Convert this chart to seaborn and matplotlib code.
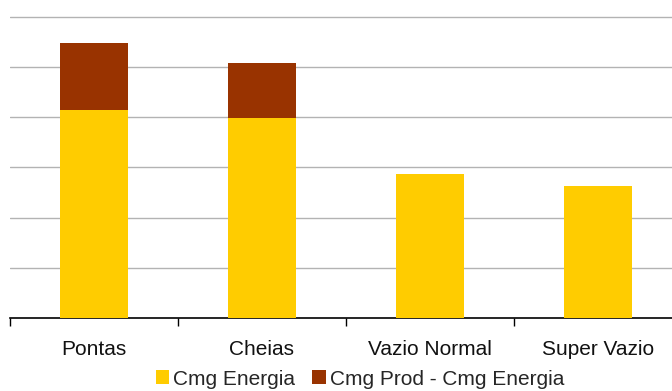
import matplotlib
matplotlib.use("Agg")
import matplotlib.pyplot as plt
import seaborn as sns
import pandas as pd
from matplotlib.patches import Patch

categories = ["Pontas", "Cheias", "Vazio Normal", "Super Vazio"]
cmg_energia = [41.4, 39.8, 28.7, 26.3]
cmg_prod_diff = [13.3, 10.9, 0.0, 0.0]
series_names = ["Cmg Energia", "Cmg Prod - Cmg Energia"]

yellow = "#FFCC00"
brown = "#993300"

sns.set_theme(style="white")
plt.rcParams["font.family"] = ["Liberation Sans", "DejaVu Sans"]

df = pd.DataFrame({
    "cat": categories,
    "energia": cmg_energia,
    "total": [e + d for e, d in zip(cmg_energia, cmg_prod_diff)],
})

fig = plt.figure(figsize=(6.72, 3.91), dpi=100)
ax = fig.add_axes([10 / 672, 73 / 391, 672 / 672, 318 / 391])

sns.barplot(data=df, x="cat", y="total", order=categories, color=brown,
            width=0.41, saturation=1, ax=ax, zorder=3,
            edgecolor="none", linewidth=0)
sns.barplot(data=df, x="cat", y="energia", order=categories, color=yellow,
            width=0.41, saturation=1, ax=ax, zorder=3,
            edgecolor="none", linewidth=0)

ax.set_xlim(-0.5, 3.5)
ax.set_ylim(0, 63.3)
ax.set_yticks([10, 20, 30, 40, 50, 60])
ax.set_yticklabels([])
ax.tick_params(axis="y", length=0)
ax.yaxis.grid(True, color="#b3b3b3", linewidth=1.0, zorder=0)
ax.set_axisbelow(True)

ax.set_xticks(range(len(categories)))
ax.set_xticklabels(categories, fontsize=15, color="#111111")
ax.set_xticks([-0.5, 0.5, 1.5, 2.5, 3.5], minor=True)
ax.tick_params(axis="x", which="major", length=0, pad=16)
ax.tick_params(axis="x", which="minor", length=6, width=1, color="black",
               direction="out", bottom=True)
ax.set_xlabel("")
ax.set_ylabel("")

for side in ["left", "right", "top"]:
    ax.spines[side].set_visible(False)
ax.spines["bottom"].set_color("black")
ax.spines["bottom"].set_linewidth(1.2)

handles = [Patch(facecolor=yellow, edgecolor="none"),
           Patch(facecolor=brown, edgecolor="none")]
fig.legend(handles, series_names, loc="lower center", ncol=2,
           bbox_to_anchor=(360 / 672, -6 / 391), frameon=False, fontsize=15,
           handlelength=0.65, handleheight=0.65, handletextpad=0.2,
           columnspacing=0.8, borderaxespad=0)

fig.savefig("out.png", dpi=100)
